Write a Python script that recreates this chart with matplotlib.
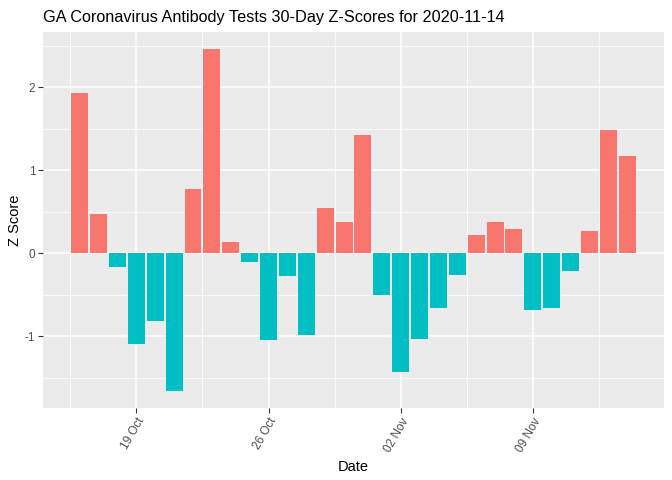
import numpy as np
import matplotlib
matplotlib.use("Agg")
import matplotlib.pyplot as plt
import matplotlib.dates as mdates
from matplotlib.ticker import MultipleLocator

dates = np.arange(np.datetime64("2020-10-16"), np.datetime64("2020-11-15"))
zscores = [1.93, 0.47, -0.17, -1.10, -0.82, -1.66, 0.77, 2.46, 0.14, -0.10,
           -1.05, -0.27, -0.98, 0.55, 0.38, 1.43, -0.50, -1.43, -1.03, -0.66,
           -0.26, 0.22, 0.38, 0.29, -0.69, -0.66, -0.22, 0.27, 1.49, 1.17]
tick_dates = ["2020-10-19", "2020-10-26", "2020-11-02", "2020-11-09"]

plt.rcParams['font.family'] = ['Liberation Sans', 'DejaVu Sans']
plt.rcParams['axes.unicode_minus'] = False

z = np.array(zscores)
x = mdates.date2num(dates.astype("datetime64[D]").astype(object))
cols = np.where(z > 0, "#F8766D", "#00BFC4")

fig = plt.figure(figsize=(6.72, 4.8), dpi=100)
ax = fig.add_axes([0.064, 0.15, 0.924, 0.783])
ax.set_facecolor("#EBEBEB")
ax.bar(x, z, width=0.9, color=cols, zorder=3)

xr = (x.min() - 0.45, x.max() + 0.45)
pad = (xr[1] - xr[0]) * 0.05
ax.set_xlim(xr[0] - pad, xr[1] + pad)
yr = (z.min(), z.max())
ypad = (yr[1] - yr[0]) * 0.05
ax.set_ylim(yr[0] - ypad, yr[1] + ypad)

ticks = mdates.date2num([np.datetime64(d).astype(object) for d in tick_dates])
ax.set_xticks(ticks)
ax.set_xticklabels([np.datetime64(d).astype(object).strftime("%d %b") for d in tick_dates],
                   rotation=60, ha="right", va="top", rotation_mode="anchor")
ax.set_xticks(np.concatenate([[ticks[0] - 3.5], ticks + 3.5]), minor=True)
ax.yaxis.set_major_locator(MultipleLocator(1))
ax.yaxis.set_minor_locator(MultipleLocator(0.5))
ax.set_yticklabels([], minor=True)

ax.grid(True, which="major", color="white", linewidth=1.1, zorder=0)
ax.grid(True, which="minor", color="white", linewidth=0.55, zorder=0)
for s in ax.spines.values():
    s.set_visible(False)
ax.tick_params(which="major", length=3.5, color="#333333", labelcolor="#4D4D4D",
               labelsize=8.5, pad=2)
ax.tick_params(which="minor", length=0)

ax.set_xlabel("Date", fontsize=10.5, labelpad=4)
ax.set_ylabel("Z Score", fontsize=10.5, labelpad=2)
fig.text(0.064, 0.955, "GA Coronavirus Antibody Tests 30-Day Z-Scores for 2020-11-14",
         fontsize=11.7, ha="left", va="baseline")

fig.savefig("out.png", dpi=100)
